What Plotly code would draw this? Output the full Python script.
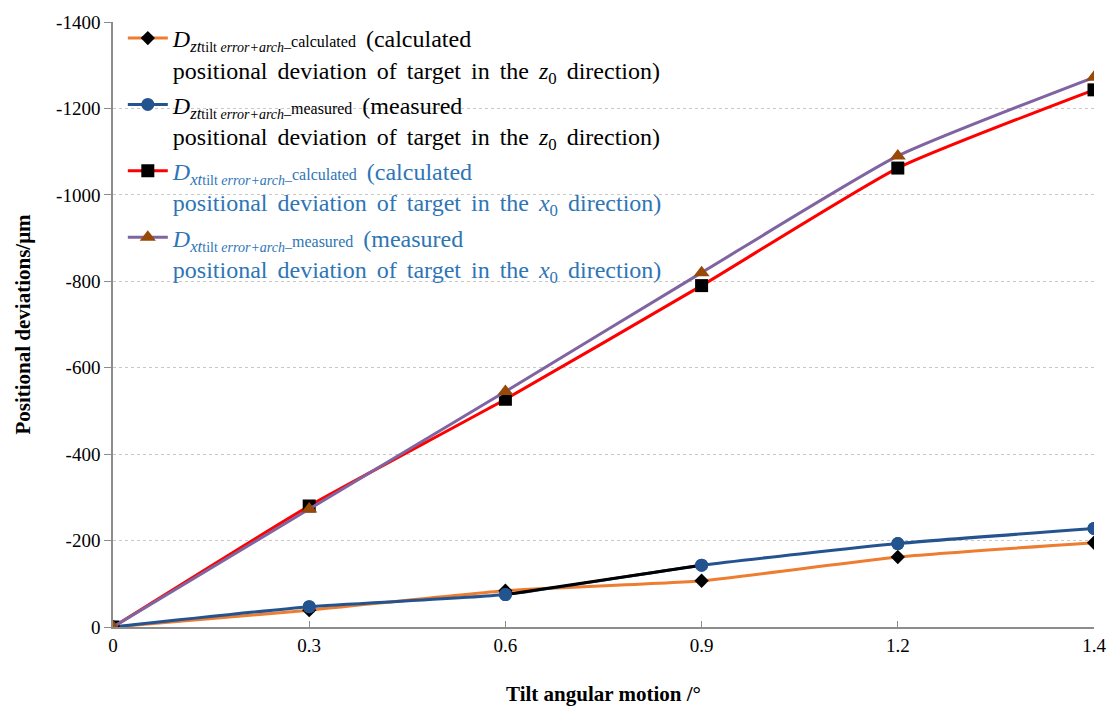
import plotly.graph_objects as go

# Tilt angular motion (degrees), shown as evenly spaced categories
tilt = ["0", "0.3", "0.6", "0.9", "1.2", "1.4"]

# Positional deviations (µm)
dz_calculated = [0, -39, -84, -107, -162, -195]
dz_measured = [0, -47, -75, -143, -193, -228]
dx_calculated = [0, -280, -527, -790, -1062, -1243]
dx_measured = [0, -273, -545, -820, -1090, -1272]

y_ticks = [0, -200, -400, -600, -800, -1000, -1200, -1400]
y_tick_labels = ["0", "-200", "-400", "-600", "-800", "-1000", "-1200", "-1400"]

SERIF = "Liberation Serif, Times New Roman, DejaVu Serif, serif"
BLUE_TXT = "#2E75B6"


def entry(axis, kind, desc, color):
    sub = "<span style='font-size:14px;word-spacing:0px'>tilt <i>error+arch</i>–</span>"
    return (
        f"<span style='color:{color};word-spacing:4px'><i>D</i><sub><i>{axis}t</i></sub><sub>{sub}</sub>"
        f"<span style='font-size:16px'>{kind}</span> ({desc}<br>"
        f"positional deviation of target in the <i>{axis}</i><sub>0</sub> direction)</span>"
    )


fig = go.Figure()

fig.add_trace(go.Scatter(
    x=tilt, y=dz_calculated, mode="lines+markers",
    name=entry("z", "calculated", "calculated", "#000000"),
    line=dict(color="#ED7D31", width=3, shape="spline", smoothing=0.5),
    marker=dict(symbol="diamond", color="#000000", size=11),
    legendgroup="a",
))
fig.add_trace(go.Scatter(
    x=tilt, y=dz_measured, mode="lines+markers",
    name=entry("z", "measured", "measured", "#000000"),
    line=dict(color="#24548F", width=3, shape="spline", smoothing=0.5),
    marker=dict(symbol="circle", color="#24548F", size=13),
    legendgroup="b",
))
# black segment of the measured z curve between 0.6 and 0.9
fig.add_trace(go.Scatter(
    x=tilt[2:4], y=dz_measured[2:4], mode="lines",
    line=dict(color="#000000", width=3),
    showlegend=False, hoverinfo="skip",
))
fig.add_trace(go.Scatter(
    x=tilt, y=dz_measured, mode="markers",
    marker=dict(symbol="circle", color="#24548F", size=13),
    showlegend=False, hoverinfo="skip",
))
fig.add_trace(go.Scatter(
    x=tilt, y=dx_calculated, mode="lines+markers",
    name=entry("x", "calculated", "calculated", BLUE_TXT),
    line=dict(color="#FF0000", width=3, shape="spline", smoothing=0.5),
    marker=dict(symbol="square", color="#000000", size=13),
    legendgroup="c",
))
fig.add_trace(go.Scatter(
    x=tilt, y=dx_measured, mode="lines+markers",
    name=entry("x", "measured", "measured", BLUE_TXT),
    line=dict(color="#8064A2", width=3, shape="spline", smoothing=0.5),
    marker=dict(symbol="triangle-up", color="#984807", size=14),
    legendgroup="d",
))

fig.update_layout(
    width=1118, height=714,
    margin=dict(l=113, r=18, t=18, b=86),
    paper_bgcolor="white", plot_bgcolor="white",
    font=dict(family=SERIF, size=19, color="#000000"),
    showlegend=True,
    legend=dict(
        x=0.01, y=1.01, xanchor="left", yanchor="top",
        bgcolor="rgba(0,0,0,0)", font=dict(family=SERIF, size=24),
        valign="top", tracegroupgap=1, itemwidth=40,
    ),
    xaxis=dict(
        type="category", range=[0, 5],
        showline=True, linecolor="#8C8C8C", linewidth=1.5,
        ticks="inside", ticklen=6, tickcolor="#8C8C8C",
        showgrid=False, zeroline=False,
        title=dict(text="<b>Tilt angular motion /°</b>",
                   font=dict(family=SERIF, size=21), standoff=32),
    ),
    yaxis=dict(
        range=[0, -1400], tickvals=y_ticks, ticktext=y_tick_labels,
        showline=True, linecolor="#8C8C8C", linewidth=1.5,
        ticks="outside", ticklen=7, tickcolor="#8C8C8C",
        showgrid=True, gridcolor="#C8C8C8", griddash="dot", gridwidth=1,
        zeroline=False,
        title=dict(text="<b>Positional deviations/μm</b>",
                   font=dict(family=SERIF, size=21), standoff=20),
    ),
)

fig.write_html("out.html")
